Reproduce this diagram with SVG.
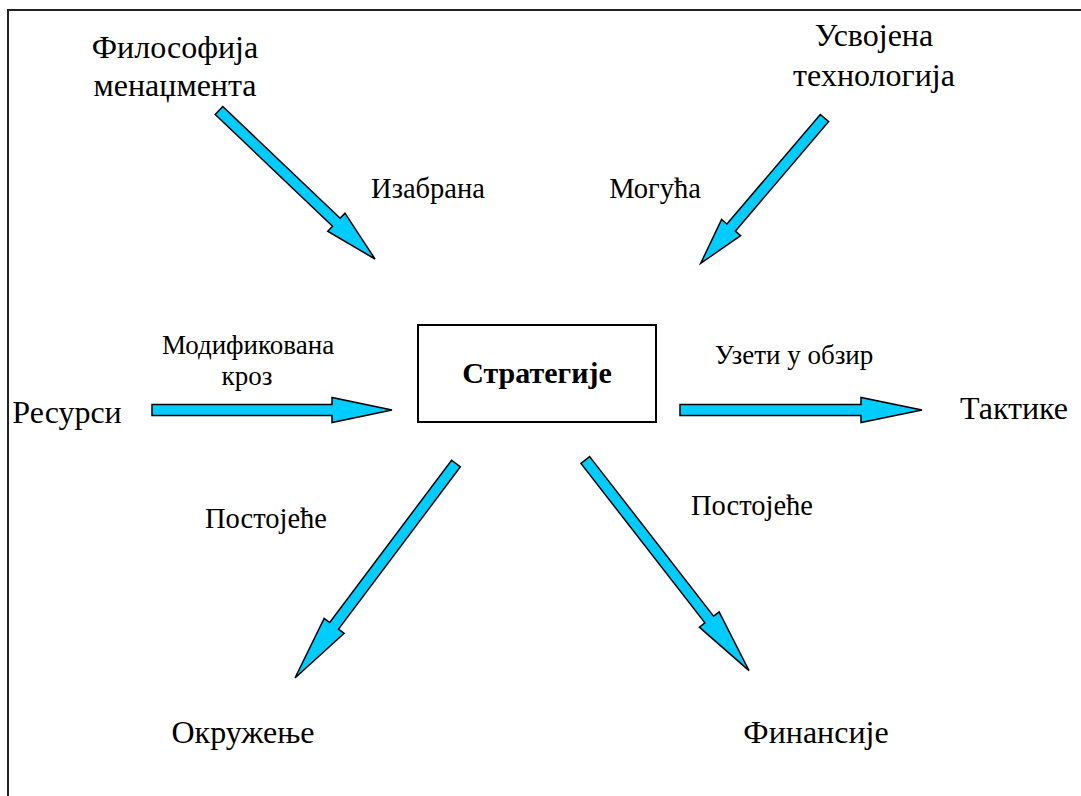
<svg xmlns="http://www.w3.org/2000/svg" width="1081" height="796" viewBox="0 0 1081 796">
<style>
.t{font-family:"Liberation Serif","Times New Roman",serif;fill:#000;text-anchor:middle}
.big{font-size:32px}
.mid{font-size:28.5px}
.sm{font-size:27px}
.bold{font-size:30px;font-weight:bold}
.arr{fill:#00CCFF;stroke:#000;stroke-width:1.5;stroke-linejoin:miter}
</style>
<rect width="1081" height="796" fill="#fff"/>
<g id="frame">
<path d="M8,796 V10 H1081" fill="none" stroke="#222" stroke-width="2"/>
</g>
<g id="connectors">
<polygon class="arr" transform="translate(219,110.5) rotate(43.59)" points="0,-5.5 162,-5.5 162,-12.5 215.4,0 162,12.5 162,5.5 0,5.5"/>
<polygon class="arr" transform="translate(824.5,118) rotate(130.43)" points="0,-5.5 144,-5.5 144,-12.5 190.9,0 144,12.5 144,5.5 0,5.5"/>
<polygon class="arr" transform="translate(152,410)" points="0,-5.5 180,-5.5 180,-12.5 240,0 180,12.5 180,5.5 0,5.5"/>
<polygon class="arr" transform="translate(680,410)" points="0,-5.5 181,-5.5 181,-12.5 242,0 181,12.5 181,5.5 0,5.5"/>
<polygon class="arr" transform="translate(456,463.5) rotate(126.89)" points="0,-5.5 203,-5.5 203,-12.5 268.2,0 203,12.5 203,5.5 0,5.5"/>
<polygon class="arr" transform="translate(585.3,460) rotate(52.15)" points="0,-5.5 202,-5.5 202,-12.5 266.8,0 202,12.5 202,5.5 0,5.5"/>
</g>
<g id="node-strategije">
<rect x="418" y="325" width="238" height="97" fill="#fff" stroke="#000" stroke-width="2"/>
<text class="t bold" x="537" y="383">Стратегије</text>
</g>
<g id="node-filozofija">
<text class="t big" x="175" y="58">Философија</text>
<text class="t big" x="175" y="96">менаџмента</text>
</g>
<g id="node-tehnologija">
<text class="t big" x="874" y="46">Усвојена</text>
<text class="t big" x="874" y="86">технологија</text>
</g>
<g id="node-resursi">
<text class="t big" x="67" y="423">Ресурси</text>
</g>
<g id="node-taktike">
<text class="t big" x="1014" y="419">Тактике</text>
</g>
<g id="node-okruzenje">
<text class="t big" x="243" y="743">Окружење</text>
</g>
<g id="node-finansije">
<text class="t big" x="816" y="743">Финансије</text>
</g>
<g id="labels">
<text class="t mid" x="428" y="198">Изабрана</text>
<text class="t mid" x="655" y="198">Могућа</text>
<text class="t sm" x="248" y="354">Модификована</text>
<text class="t sm" x="247" y="385">кроз</text>
<text class="t sm" x="794" y="364">Узети у обзир</text>
<text class="t mid" x="266" y="528">Постојеће</text>
<text class="t mid" x="752" y="515">Постојеће</text>
</g>
</svg>
